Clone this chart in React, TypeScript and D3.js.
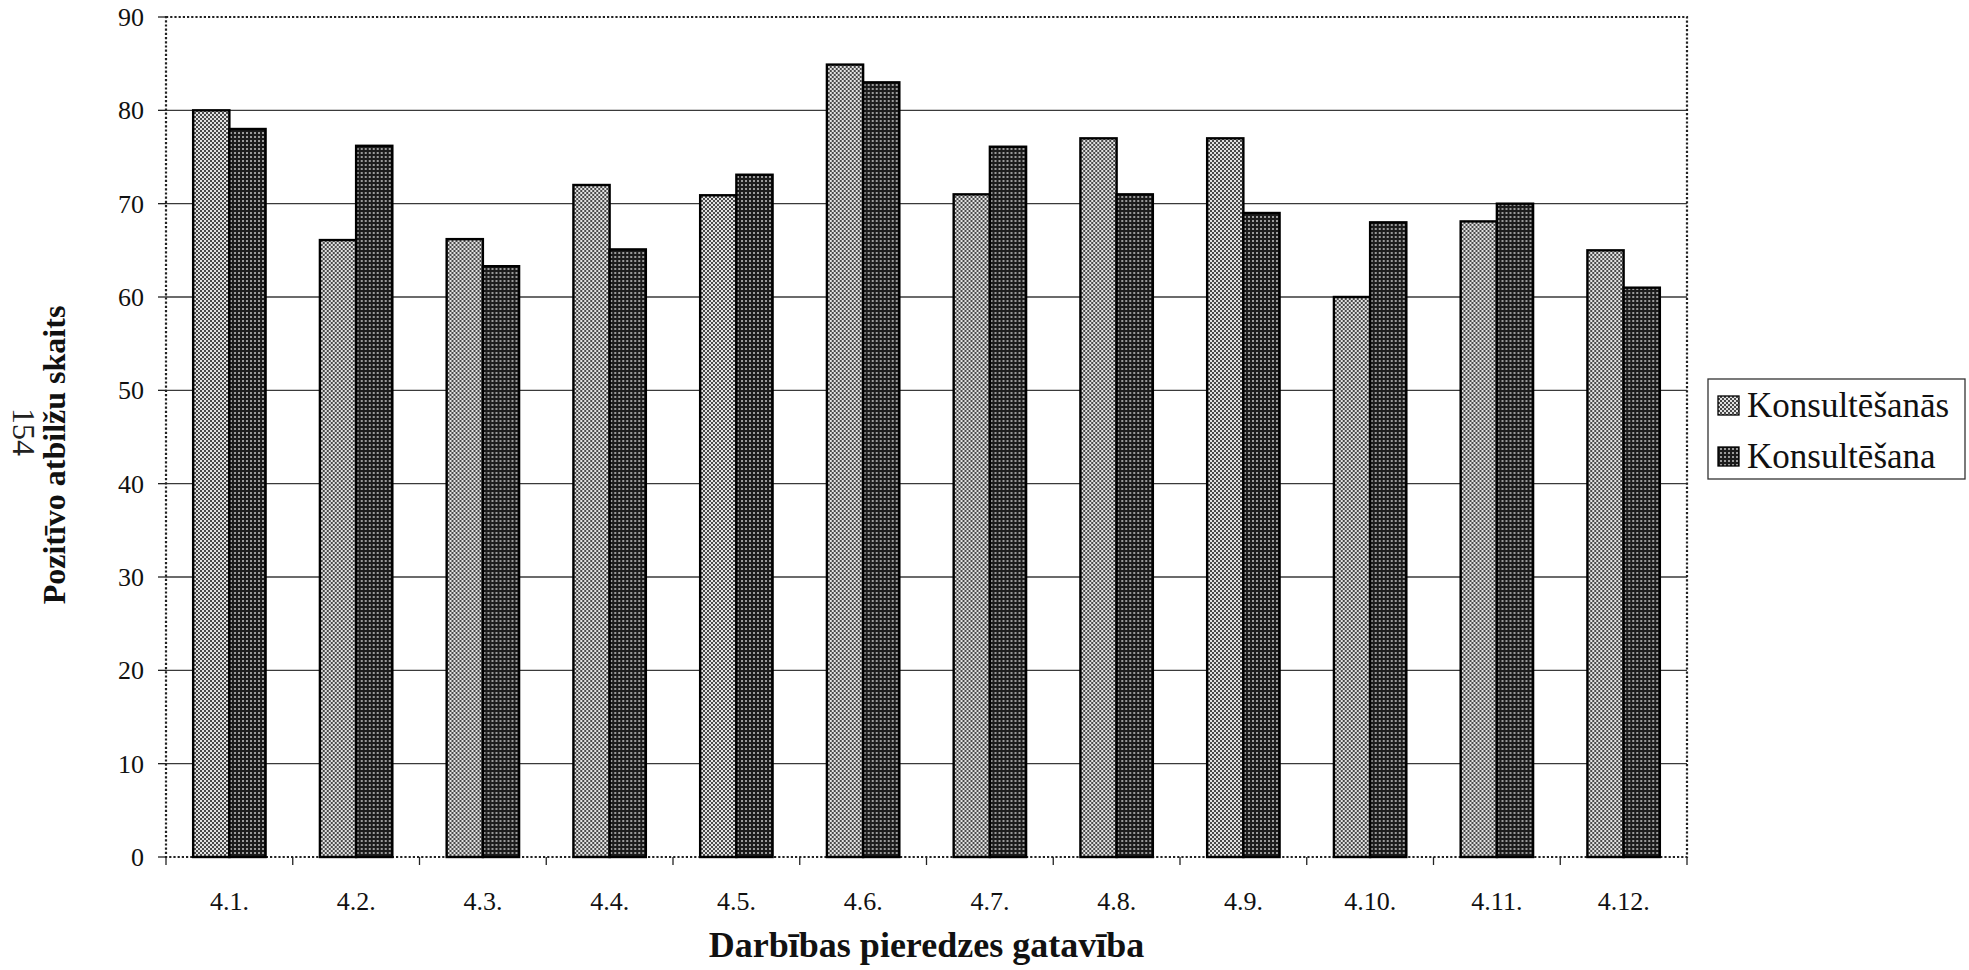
import React from "react";
import * as d3 from "d3";

const categories = ["4.1.", "4.2.", "4.3.", "4.4.", "4.5.", "4.6.", "4.7.", "4.8.", "4.9.", "4.10.", "4.11.", "4.12."];
const seriesNames = ["Konsultēšanās", "Konsultēšana"];
const konsultesanas = [80, 66.1, 66.2, 72.0, 70.9, 84.9, 71.0, 77.0, 77.0, 60.0, 68.1, 65.0];
const konsultesana = [78, 76.2, 63.3, 65.1, 73.1, 83.0, 76.1, 71.0, 69.0, 68.0, 70.0, 61.0];
const yTicks = [0, 10, 20, 30, 40, 50, 60, 70, 80, 90];
const xTitle = "Darbības pieredzes gatavība";
const yTitle = "Pozitīvo atbilžu skaits";
const pageNumber = "154";

const W = 1969;
const H = 970;
const plot = { left: 166, right: 1687, top: 17, bottom: 857 };
const FONT = "'Times New Roman', 'Liberation Serif', serif";
const tf = { fontFamily: FONT } as React.CSSProperties;

export default function App() {
  const x = d3.scaleBand<string>().domain(categories).range([plot.left, plot.right]).paddingInner(0).paddingOuter(0);
  const x1 = d3.scaleBand<string>().domain(seriesNames).range([0, x.bandwidth()]).paddingInner(0).paddingOuter(0.75);
  const y = d3.scaleLinear().domain([0, 90]).range([plot.bottom, plot.top]);
  const values = [konsultesanas, konsultesana];
  const fills = ["url(#patLight)", "url(#patDark)"];

  return (
    <svg width={W} height={H} style={{ position: "absolute", left: 0, top: 0, background: "#fff", fontFamily: FONT }}>
      <defs>
        <pattern id="patLight" patternUnits="userSpaceOnUse" width={4} height={4}>
          <rect width={4} height={4} fill="#e2e2e2" />
          <rect x={0} y={0} width={2} height={2} fill="#4a4a4a" />
          <rect x={2} y={2} width={2} height={2} fill="#4a4a4a" />
        </pattern>
        <pattern id="patDark" patternUnits="userSpaceOnUse" width={4} height={4}>
          <rect width={4} height={4} fill="#1c1c1c" />
          <rect x={0} y={0} width={2} height={2} fill="#9a9a9a" />
        </pattern>
      </defs>
      <rect x={0} y={0} width={W} height={H} fill="#fff" />

      {/* gridlines */}
      {yTicks.filter((t) => t > 0 && t < 90).map((t) => (
        <line key={"g" + t} x1={plot.left} x2={plot.right} y1={y(t)} y2={y(t)} stroke="#3a3a3a" strokeWidth={1.3} />
      ))}

      {/* plot border dotted */}
      <rect x={plot.left} y={plot.top} width={plot.right - plot.left} height={plot.bottom - plot.top}
        fill="none" stroke="#222" strokeWidth={2.2} strokeDasharray="2.2,2" />

      {/* bars */}
      {categories.map((c, i) => (
        <g key={c} transform={`translate(${x(c)},0)`}>
          {seriesNames.map((s, j) => (
            <rect key={s} x={x1(s)} y={y(values[j][i])} width={x1.bandwidth()} height={y(0) - y(values[j][i])}
              fill={fills[j]} stroke="#000" strokeWidth={2.4} />
          ))}
        </g>
      ))}

      {/* y ticks */}
      {yTicks.map((t) => (
        <g key={"yt" + t}>
          <line x1={plot.left - 8} x2={plot.left} y1={y(t)} y2={y(t)} stroke="#222" strokeWidth={1.3} />
          <text x={144} y={y(t)} dy="0.34em" textAnchor="end" fontSize={26} fill="#111" style={tf}>{t}</text>
        </g>
      ))}

      {/* x ticks */}
      {categories.map((c) => (
        <line key={"xt" + c} x1={x(c)!} x2={x(c)!} y1={plot.bottom} y2={plot.bottom + 8} stroke="#222" strokeWidth={1.3} />
      ))}
      <line x1={plot.right} x2={plot.right} y1={plot.bottom} y2={plot.bottom + 8} stroke="#222" strokeWidth={1.3} />
      {categories.map((c) => (
        <text key={"xl" + c} x={x(c)! + x.bandwidth() / 2} y={910} textAnchor="middle" fontSize={26} fill="#111" style={tf}>{c}</text>
      ))}

      {/* axis titles */}
      <text x={(plot.left + plot.right) / 2} y={957} textAnchor="middle" fontSize={36} fontWeight="bold" fill="#111" style={tf}>{xTitle}</text>
      <text transform={`translate(65,455) rotate(-90)`} textAnchor="middle" fontSize={32} fontWeight="bold" fill="#111" style={tf}>{yTitle}</text>
      <text transform={`translate(13,432) rotate(90)`} textAnchor="middle" fontSize={32} fill="#222" style={tf}>{pageNumber}</text>

      {/* legend */}
      <rect x={1708} y={379} width={257} height={100} fill="#fff" stroke="#333" strokeWidth={1.3} />
      {seriesNames.map((s, j) => (
        <g key={"lg" + s}>
          <rect x={1718} y={396 + j * 51} width={21} height={19} fill={fills[j]} stroke="#000" strokeWidth={1.3} />
          <text x={1747} y={417 + j * 51} fontSize={35} fill="#111" style={tf}>{s}</text>
        </g>
      ))}
    </svg>
  );
}
